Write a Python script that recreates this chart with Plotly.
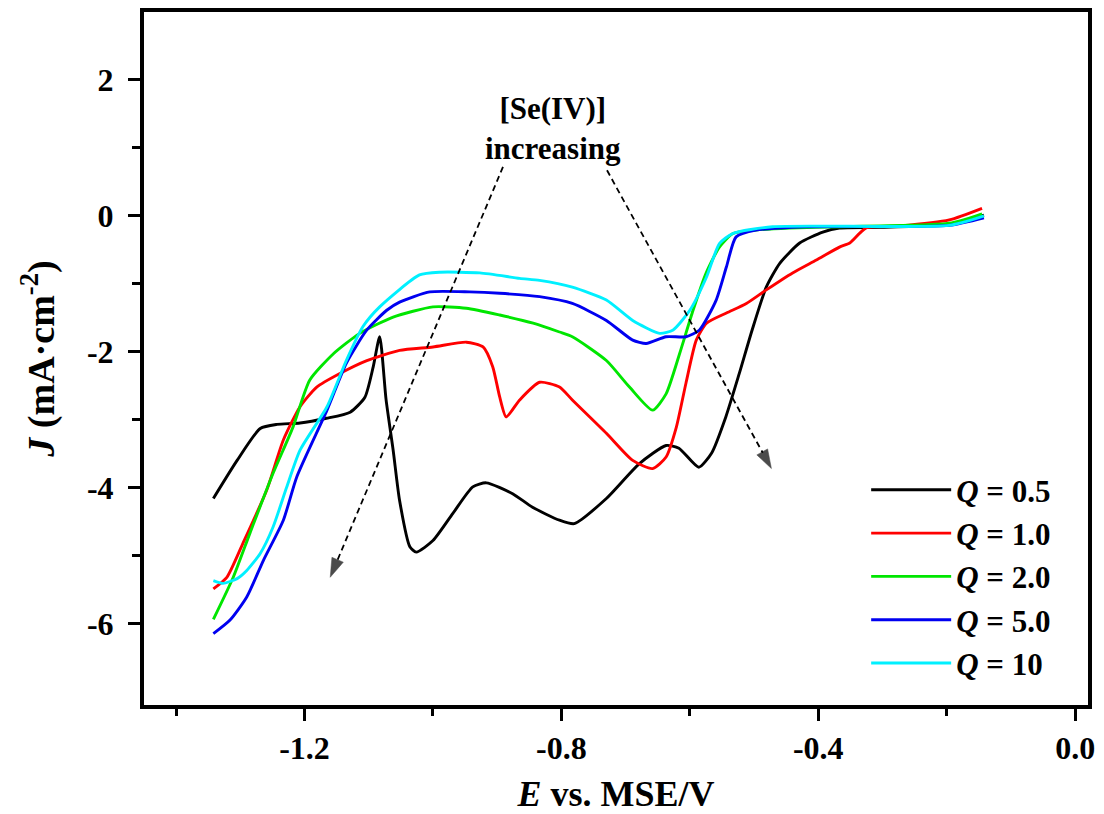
import plotly.graph_objects as go

# Linear sweep voltammograms, current density vs potential (E vs. MSE)
e_q05 = [-1.342, -1.305, -1.269, -1.243, -1.207, -1.166, -1.129, -1.106, -1.093, -1.083,
         -1.073, -1.062, -1.052, -1.036, -1.026, -1.000, -0.969, -0.938, -0.917, -0.876,
         -0.845, -0.803, -0.780, -0.730, -0.679, -0.637, -0.617, -0.586, -0.566, -0.544,
         -0.523, -0.503, -0.481, -0.460, -0.429, -0.393, -0.367, -0.305, -0.196, -0.142]
j_q05 = [-4.16, -3.60, -3.13, -3.07, -3.05, -2.98, -2.89, -2.67, -2.22, -1.78,
         -2.71, -3.45, -4.19, -4.87, -4.95, -4.78, -4.38, -3.99, -3.93, -4.09,
         -4.29, -4.48, -4.53, -4.16, -3.65, -3.38, -3.42, -3.70, -3.49, -2.96,
         -2.32, -1.68, -1.05, -0.70, -0.40, -0.24, -0.18, -0.17, -0.12, 0.01]

e_q10 = [-1.342, -1.321, -1.296, -1.259, -1.233, -1.207, -1.181, -1.145, -1.103, -1.052,
         -1.000, -0.948, -0.922, -0.907, -0.896, -0.886, -0.865, -0.834, -0.803, -0.783,
         -0.730, -0.689, -0.658, -0.637, -0.621, -0.606, -0.590, -0.574, -0.543, -0.512,
         -0.481, -0.440, -0.403, -0.367, -0.351, -0.326, -0.274, -0.196, -0.145]
j_q10 = [-5.49, -5.32, -4.82, -4.04, -3.30, -2.81, -2.52, -2.32, -2.13, -1.98,
         -1.93, -1.86, -1.93, -2.22, -2.67, -2.96, -2.71, -2.45, -2.52, -2.71,
         -3.20, -3.60, -3.72, -3.55, -3.11, -2.46, -1.83, -1.58, -1.43, -1.29,
         -1.09, -0.84, -0.65, -0.46, -0.40, -0.18, -0.15, -0.06, 0.11]

e_q20 = [-1.342, -1.311, -1.285, -1.249, -1.218, -1.192, -1.155, -1.114, -1.062, -1.000,
         -0.948, -0.896, -0.844, -0.803, -0.783, -0.730, -0.694, -0.658, -0.637, -0.616,
         -0.595, -0.575, -0.554, -0.533, -0.497, -0.445, -0.367, -0.196, -0.145]
j_q20 = [-5.94, -5.32, -4.67, -3.79, -3.11, -2.42, -2.03, -1.73, -1.49, -1.34,
         -1.36, -1.46, -1.58, -1.71, -1.78, -2.13, -2.52, -2.86, -2.62, -2.03,
         -1.39, -0.85, -0.46, -0.26, -0.21, -0.18, -0.16, -0.11, 0.03]

e_q50 = [-1.342, -1.316, -1.290, -1.264, -1.233, -1.212, -1.165, -1.135, -1.103, -1.072,
         -1.052, -1.005, -0.943, -0.896, -0.834, -0.783, -0.730, -0.689, -0.668, -0.637,
         -0.606, -0.585, -0.559, -0.543, -0.528, -0.497, -0.419, -0.196, -0.142]
j_q50 = [-6.15, -5.95, -5.61, -5.07, -4.48, -3.84, -2.86, -2.17, -1.68, -1.39,
         -1.27, -1.12, -1.12, -1.14, -1.19, -1.29, -1.54, -1.83, -1.88, -1.78,
         -1.78, -1.68, -1.24, -0.75, -0.31, -0.21, -0.16, -0.14, -0.03]

e_q100 = [-1.342, -1.327, -1.305, -1.290, -1.269, -1.249, -1.228, -1.207, -1.165, -1.135,
          -1.109, -1.083, -1.021, -0.989, -0.927, -0.865, -0.834, -0.783, -0.730, -0.689,
          -0.647, -0.626, -0.600, -0.574, -0.554, -0.533, -0.471, -0.196, -0.142]
j_q100 = [-5.37, -5.41, -5.34, -5.22, -4.97, -4.58, -4.00, -3.45, -2.81, -2.13,
          -1.63, -1.34, -0.87, -0.83, -0.84, -0.92, -0.95, -1.05, -1.24, -1.54,
          -1.73, -1.68, -1.39, -0.90, -0.41, -0.26, -0.16, -0.14, 0.00]

series_names = ["<i>Q</i> = 0.5", "<i>Q</i> = 1.0", "<i>Q</i> = 2.0", "<i>Q</i> = 5.0", "<i>Q</i> = 10"]
series_e = [e_q05, e_q10, e_q20, e_q50, e_q100]
series_j = [j_q05, j_q10, j_q20, j_q50, j_q100]
series_colors = ["#000000", "#ff0000", "#00e600", "#0000f0", "#00f0ff"]

x_tickvals = [-1.2, -0.8, -0.4, 0.0]
x_ticktext = ["-1.2", "-0.8", "-0.4", "0.0"]
x_minor = [-1.4, -1.0, -0.6, -0.2]
y_tickvals = [2, 0, -2, -4, -6]
y_ticktext = ["2", "0", "-2", "-4", "-6"]
y_minor = [1, -1, -3, -5]

# Dashed guide arrows: [start E, tip E], [start J, tip J]
arrow_left_e = [-0.891, -1.160]
arrow_left_j = [0.72, -5.32]
arrow_right_e = [-0.729, -0.473]
arrow_right_j = [0.67, -3.72]

FONT = "Liberation Serif, Times New Roman, serif"

fig = go.Figure()
for name, ex, jy, col in zip(series_names, series_e, series_j, series_colors):
    fig.add_trace(go.Scatter(
        x=ex, y=jy, name=name, mode="lines",
        line=dict(color=col, width=2.9, shape="spline", smoothing=0.6),
    ))

for ae, aj in [(arrow_left_e, arrow_left_j), (arrow_right_e, arrow_right_j)]:
    fig.add_trace(go.Scatter(
        x=ae, y=aj, mode="lines+markers", showlegend=False, hoverinfo="skip",
        line=dict(color="black", width=1.8, dash="6px,4px"),
        marker=dict(symbol=["circle", "arrow"], size=[0, 20], color="black",
                    angleref="previous", line=dict(width=0.5, color="black")),
    ))

fig.add_annotation(x=-0.813, y=1.29, xref="x", yref="y", showarrow=False,
                   text="[Se(IV)]<br>increasing",
                   font=dict(family=FONT, size=31, color="black", weight="bold"),
                   xanchor="center", yanchor="middle")

axis_common = dict(
    showline=True, linecolor="black", linewidth=4, mirror=True,
    showgrid=False, zeroline=False, ticks="outside", tickcolor="black",
    tickwidth=3, ticklen=12, automargin=False,
    tickfont=dict(family=FONT, size=32, color="black", weight="bold"),
)

fig.update_xaxes(
    range=[-1.45, 0.02], tickmode="array", tickvals=x_tickvals, ticktext=x_ticktext,
    minor=dict(tickmode="array", tickvals=x_minor, ticks="outside", ticklen=7,
               tickwidth=3, tickcolor="black"),
    title=dict(text="<i>E</i> vs. MSE/V", standoff=26,
               font=dict(family=FONT, size=36, color="black", weight="bold")),
    **axis_common,
)
fig.update_yaxes(
    range=[-7.2, 3.0], tickmode="array", tickvals=y_tickvals, ticktext=y_ticktext,
    ticklabelstandoff=8,
    minor=dict(tickmode="array", tickvals=y_minor, ticks="outside", ticklen=8,
               tickwidth=3, tickcolor="black"),
    title=dict(text="<i>J</i> (mA·cm<sup>-2</sup>)", standoff=22,
               font=dict(family=FONT, size=38, color="black", weight="bold")),
    **axis_common,
)

fig.update_layout(
    width=1104, height=814,
    margin=dict(l=144, r=16, t=12, b=109),
    paper_bgcolor="white", plot_bgcolor="white",
    showlegend=True,
    legend=dict(
        x=0.765, y=0.349, xanchor="left", yanchor="top",
        bgcolor="rgba(0,0,0,0)", borderwidth=0,
        font=dict(family=FONT, size=31, color="black", weight="bold"),
        itemwidth=80, tracegroupgap=0,
    ),
)

fig.write_html("out.html")
